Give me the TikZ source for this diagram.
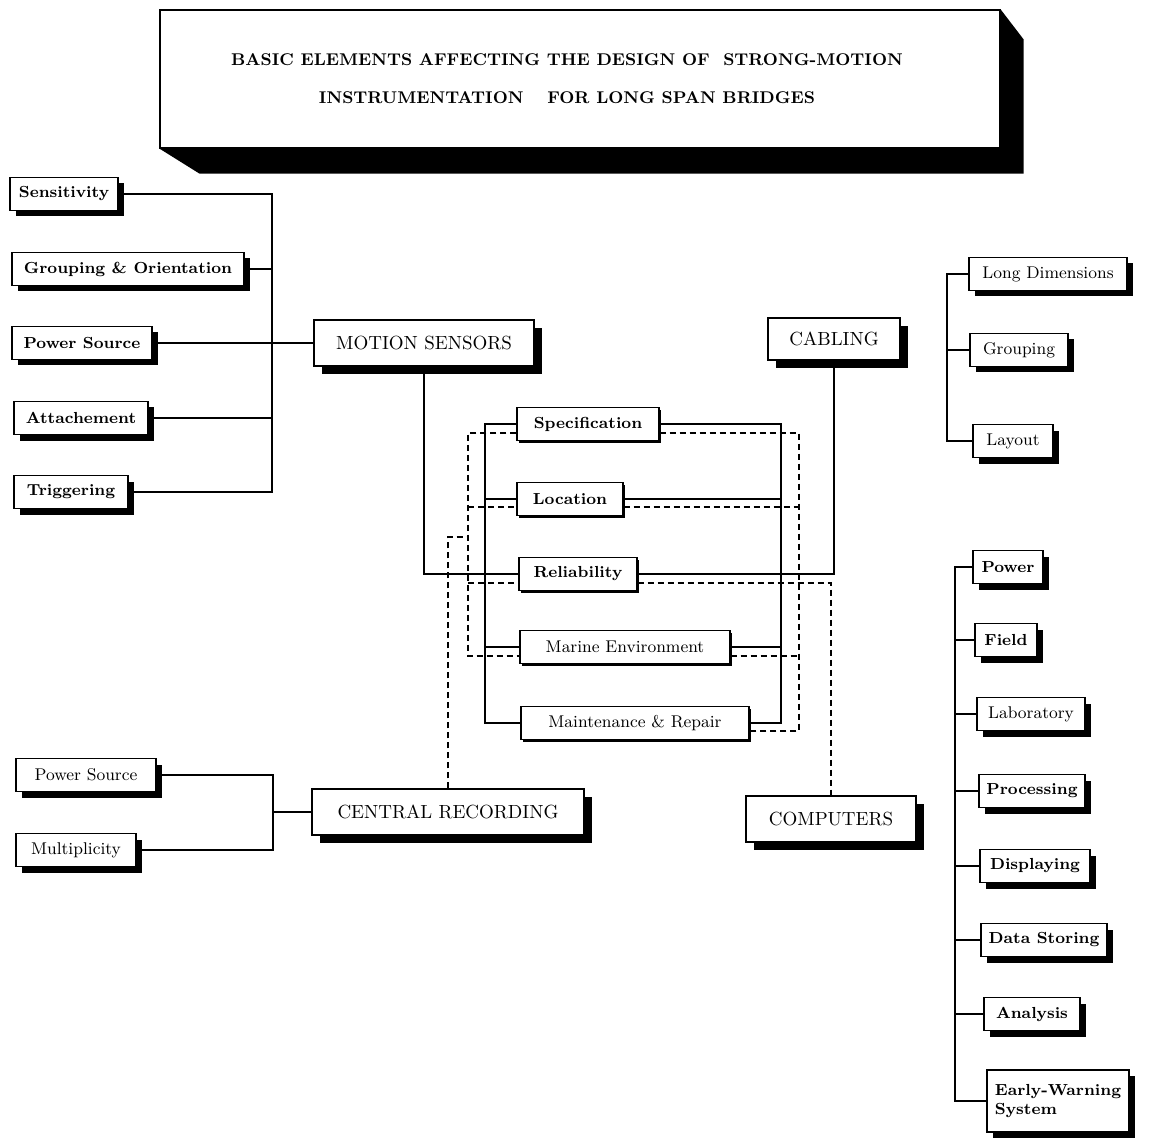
\documentclass[tikz,border=0pt]{standalone}
\usepackage{tikz}
\usetikzlibrary{shapes,arrows,backgrounds,positioning,shadows}

\begin{document}
\begin{tikzpicture}[x=0.5pt,y=-0.5pt]
	\tikzstyle{Box}      = [rectangle, draw, fill=white, line width=0.6pt, inner sep=2pt, minimum height=16.5pt]
	\tikzstyle{Item}     = [Box, font=\fontsize{8}{9.5}\selectfont\bfseries, drop shadow={shadow xshift=3pt, shadow yshift=-3pt, fill=black, opacity=1}]
	\tikzstyle{Core}     = [Box, font=\fontsize{8}{9.5}\selectfont\bfseries, drop shadow={shadow xshift=1.2pt, shadow yshift=-1.2pt, fill=black, opacity=1}]
	\tikzstyle{Plain}    = [font=\fontsize{8.5}{10}\selectfont]
	\tikzstyle{Main}     = [Box, minimum height=23pt, font=\fontsize{9.5}{11}\selectfont, drop shadow={shadow xshift=4pt, shadow yshift=-4pt, fill=black, opacity=1}]
	\tikzstyle{Title}    = [rectangle, draw, fill=white, line width=0.6pt, minimum width=420pt, minimum height=69pt, align=center, font=\fontsize{8.5}{19}\selectfont\bfseries]
	\tikzstyle{Link}     = [line width=0.8pt]
	\tikzstyle{DashLink} = [line width=0.8pt, dash pattern=on 3pt off 2pt]

	\useasboundingbox (0,0) rectangle (1149,1138);

	\node (title) at (580,79) [Title, text depth=-3pt] {\hspace*{-13pt}BASIC ELEMENTS AFFECTING THE DESIGN OF\ \ STRONG-MOTION\\\hspace*{-13pt}INSTRUMENTATION\quad\ FOR LONG SPAN BRIDGES};
	\begin{scope}[on background layer]
		\fill (title.south west) -- ++(40,25) -- ([shift={(23,25)}]title.south east) -- ([shift={(23,30)}]title.north east) -- (title.north east) -- cycle;
	\end{scope}

	% main elements
	\node (motion)    at (424,343) [Main, minimum width=110pt] {MOTION SENSORS};
	\node (cabling)   at (834,339) [Main, minimum width=66pt, minimum height=21pt] {CABLING};
	\node (central)   at (448,812) [Main, minimum width=136pt] {CENTRAL RECORDING};
	\node (computers) at (831,819) [Main, minimum width=85pt] {COMPUTERS};

	% motion sensors
	\node (sens)   at (64,194)  [Item, minimum width=54pt] {Sensitivity};
	\node (group)  at (128,269) [Item, minimum width=116pt] {Grouping \& Orientation};
	\node (power)  at (82,343)  [Item, minimum width=70pt] {Power Source};
	\node (attach) at (81,418)  [Item, minimum width=67pt] {Attachement};
	\node (trig)   at (71,492)  [Item, minimum width=57pt] {Triggering};

	% cabling
	\node (longdim) at (1048,274) [Item][Plain, minimum width=79pt] {Long Dimensions};
	\node (cgroup)  at (1019,350) [Item][Plain, minimum width=49pt] {Grouping};
	\node (layout)  at (1013,441) [Item][Plain, minimum width=40pt] {Layout};

	% computers
	\node (cpower) at (1008,567)  [Item, minimum width=35pt] {Power};
	\node (field)  at (1006,640)  [Item, minimum width=31pt] {Field};
	\node (lab)    at (1031,714)  [Item][Plain, minimum width=54pt] {Laboratory};
	\node (proc)   at (1032,791)  [Item, minimum width=53pt] {Processing};
	\node (disp)   at (1035,866)  [Item, minimum width=55pt] {Displaying};
	\node (store)  at (1044,940)  [Item, minimum width=63pt] {Data Storing};
	\node (anal)   at (1032,1014) [Item, minimum width=48pt] {Analysis};
	\node (early)  at (1058,1101) [Item, minimum width=71pt, minimum height=31pt, align=left] {Early-Warning\\System};

	% central recording
	\node (crpower) at (86,775) [Item][Plain, minimum width=70pt] {Power Source};
	\node (multi)   at (76,850) [Item][Plain, minimum width=60pt] {Multiplicity};

	% common aspects
	\node (spec)   at (588,424) [Core, minimum width=71pt] {Specification};
	\node (loc)    at (570,499) [Core, minimum width=53pt] {Location};
	\node (reliab) at (578,574) [Core, minimum width=59pt] {Reliability};
	\node (marine) at (625,647) [Core][Plain, minimum width=105pt] {Marine Environment};
	\node (maint)  at (635,723) [Core][Plain, minimum width=114pt] {Maintenance \& Repair};

	\coordinate (msbus) at (272,0);
	\coordinate (cbbus) at (947,0);
	\coordinate (cpbus) at (955,0);
	\coordinate (crbus) at (273,0);
	\coordinate (lsbus) at (485,0);
	\coordinate (rsbus) at (781,0);
	\coordinate (ldbus) at (468,0);
	\coordinate (rdbus) at (799,0);
	\coordinate (crjoin) at (468,537);

	\draw (sens.east) -- (sens.east -| msbus) -- (trig.east -| msbus) -- (trig.east) [Link];
	\draw (group.east) -- (group.east -| msbus) [Link];
	\draw (attach.east) -- (attach.east -| msbus) [Link];
	\draw (power.east) -- (motion.west) [Link];

	\draw (longdim.west) -- (longdim.west -| cbbus) -- (layout.west -| cbbus) -- (layout.west) [Link];
	\draw (cgroup.west -| cbbus) -- (cgroup.west) [Link];

	\draw (cpower.west) -- (cpower.west -| cpbus) -- (early.west -| cpbus) -- (early.west) [Link];
	\foreach \n in {field,lab,proc,disp,store,anal}
		\draw (\n.west -| cpbus) -- (\n.west) [Link];

	\draw (crpower.east) -- (crpower.east -| crbus) -- (multi.east -| crbus) -- (multi.east) [Link];
	\draw (central.west -| crbus) -- (central.west) [Link];

	\draw (motion.south) |- (reliab.west) [Link];
	\draw (cabling.south) |- (reliab.east) [Link];

	\draw (spec.west) -- (spec.west -| lsbus) -- (maint.west -| lsbus) -- (maint.west) [Link];
	\draw (loc.west -| lsbus) -- (loc.west) [Link];
	\draw (marine.west -| lsbus) -- (marine.west) [Link];
	\draw (spec.east) -- (spec.east -| rsbus) -- (maint.east -| rsbus) -- (maint.east) [Link];
	\draw (loc.east) -- (loc.east -| rsbus) [Link];
	\draw (marine.east) -- (marine.east -| rsbus) [Link];

	\draw ([yshift=-4.5pt]spec.west) -- ([yshift=-4.5pt]spec.west -| ldbus) -- ([yshift=-4.5pt]marine.west -| ldbus) -- ([yshift=-4.5pt]marine.west) [DashLink];
	\draw ([yshift=-4pt]loc.west -| ldbus) -- ([yshift=-4pt]loc.west) [DashLink];
	\draw ([yshift=-4.5pt]reliab.west -| ldbus) -- ([yshift=-4.5pt]reliab.west) [DashLink];
	\draw (central.north) |- (crjoin) [DashLink];

	\draw ([yshift=-4.5pt]spec.east) -- ([yshift=-4.5pt]spec.east -| rdbus) -- ([yshift=-4pt]maint.east -| rdbus) -- ([yshift=-4pt]maint.east) [DashLink];
	\draw ([yshift=-4pt]loc.east) -- ([yshift=-4pt]loc.east -| rdbus) [DashLink];
	\draw ([yshift=-4.5pt]marine.east) -- ([yshift=-4.5pt]marine.east -| rdbus) [DashLink];
	\draw ([yshift=-4.5pt]reliab.east) -| (computers.north) [DashLink];
\end{tikzpicture}
\end{document}
